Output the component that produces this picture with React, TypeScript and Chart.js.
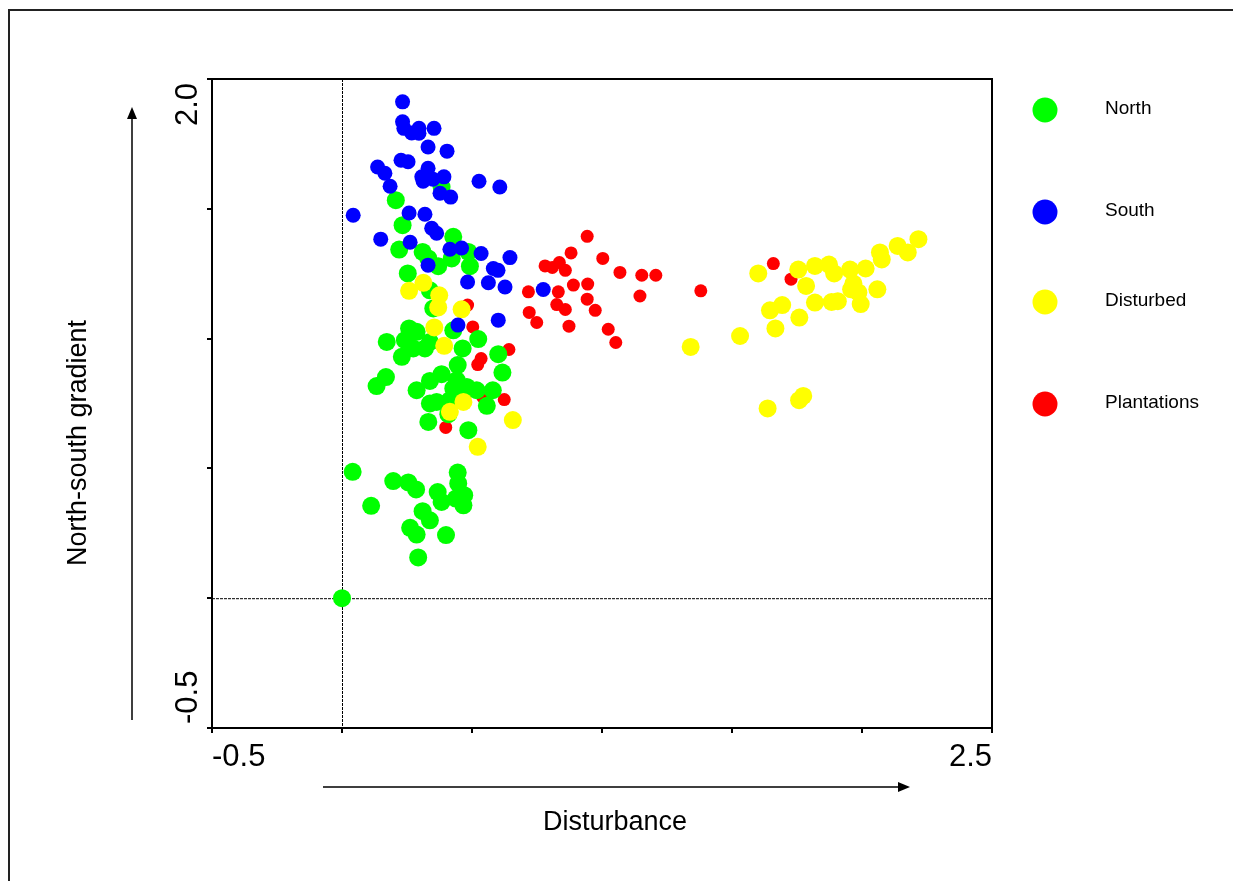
import React, { useEffect, useRef } from "react";
import { Chart, registerables } from "chart.js";

Chart.register(...registerables);

const seriesNames = ["North", "South", "Disturbed", "Plantations"];
const seriesColors = ["#00ff00", "#0000ff", "#ffff00", "#ff0000"];
const pointRadii = [9, 7.5, 9, 6.5];
const drawOrder = [2, 0, 1, 3];

const xTickLabels = ["-0.5", "2.5"];
const yTickLabels = ["2.0", "-0.5"];
const xTitle = "Disturbance";
const yTitle = "North-south gradient";

const northPoints: [number, number][] = [
  [0.383, 1.584], [0.207, 1.533], [0.233, 1.437], [0.428, 1.392], [0.22, 1.343],
  [0.31, 1.334], [0.332, 1.309], [0.37, 1.279], [0.422, 1.309], [0.486, 1.334],
  [0.492, 1.279], [0.253, 1.251], [0.338, 1.186], [0.351, 1.116], [0.258, 1.039],
  [0.287, 1.026], [0.172, 0.987], [0.242, 0.994], [0.274, 0.962], [0.319, 0.962],
  [0.23, 0.93], [0.338, 0.987], [0.428, 1.032], [0.524, 0.998], [0.464, 0.962],
  [0.601, 0.94], [0.445, 0.898], [0.617, 0.869], [0.169, 0.852], [0.133, 0.817],
  [0.287, 0.801], [0.338, 0.837], [0.383, 0.863], [0.441, 0.84], [0.48, 0.814],
  [0.518, 0.801], [0.58, 0.801], [0.338, 0.75], [0.364, 0.756], [0.415, 0.763],
  [0.557, 0.741], [0.409, 0.709], [0.332, 0.679], [0.486, 0.647], [0.428, 0.808],
  [0.467, 0.789], [0.041, 0.487], [0.112, 0.356], [0.197, 0.451], [0.255, 0.446],
  [0.285, 0.419], [0.368, 0.409], [0.383, 0.371], [0.445, 0.484], [0.447, 0.442],
  [0.438, 0.384], [0.47, 0.397], [0.467, 0.358], [0.31, 0.335], [0.338, 0.3],
  [0.262, 0.271], [0.287, 0.245], [0.4, 0.243], [0.293, 0.157], [0.0, 0.0],
];

const southPoints: [number, number][] = [
  [0.233, 1.912], [0.233, 1.835], [0.238, 1.81], [0.268, 1.792], [0.296, 1.81],
  [0.296, 1.791], [0.354, 1.81], [0.331, 1.738], [0.404, 1.722], [0.227, 1.687],
  [0.254, 1.681], [0.137, 1.661], [0.165, 1.637], [0.331, 1.656], [0.307, 1.623],
  [0.312, 1.606], [0.35, 1.614], [0.392, 1.623], [0.377, 1.56], [0.418, 1.545],
  [0.527, 1.606], [0.607, 1.584], [0.185, 1.587], [0.043, 1.475], [0.258, 1.484],
  [0.319, 1.479], [0.345, 1.425], [0.364, 1.406], [0.149, 1.383], [0.262, 1.371],
  [0.415, 1.344], [0.46, 1.349], [0.535, 1.328], [0.646, 1.312], [0.331, 1.283],
  [0.582, 1.27], [0.6, 1.263], [0.483, 1.218], [0.563, 1.215], [0.627, 1.199],
  [0.774, 1.189], [0.601, 1.071], [0.446, 1.052],
];

const disturbedPoints: [number, number][] = [
  [0.313, 1.215], [0.258, 1.184], [0.374, 1.167], [0.37, 1.12], [0.46, 1.113],
  [0.355, 1.043], [0.393, 0.972], [0.467, 0.756], [0.415, 0.718], [0.657, 0.686],
  [0.522, 0.583], [1.601, 1.251], [1.755, 1.266], [1.819, 1.28], [1.873, 1.285],
  [1.893, 1.251], [1.954, 1.266], [2.014, 1.27], [2.069, 1.332], [2.076, 1.305],
  [2.137, 1.357], [2.176, 1.332], [2.217, 1.383], [1.785, 1.203], [1.967, 1.212],
  [1.958, 1.19], [1.986, 1.178], [2.059, 1.19], [1.646, 1.109], [1.693, 1.129],
  [1.759, 1.081], [1.819, 1.139], [1.883, 1.141], [1.907, 1.144], [1.995, 1.133],
  [1.667, 1.039], [1.531, 1.01], [1.341, 0.968], [1.637, 0.731], [1.758, 0.763],
  [1.774, 0.779],
];

const plantationPoints: [number, number][] = [
  [0.943, 1.394], [0.881, 1.33], [0.781, 1.28], [0.809, 1.274], [0.836, 1.293],
  [0.859, 1.263], [1.003, 1.309], [1.069, 1.255], [1.153, 1.244], [1.207, 1.244],
  [1.38, 1.184], [0.717, 1.18], [0.832, 1.18], [0.89, 1.206], [0.945, 1.21],
  [1.146, 1.164], [0.72, 1.101], [0.749, 1.062], [0.826, 1.131], [0.859, 1.112],
  [0.943, 1.152], [0.974, 1.109], [0.873, 1.048], [1.024, 1.036], [1.053, 0.985],
  [0.642, 0.958], [1.659, 1.289], [1.727, 1.229], [0.483, 1.129], [0.503, 1.045],
  [0.535, 0.923], [0.522, 0.9], [0.624, 0.765], [0.399, 0.658], [0.542, 0.774],
];

const allSeries = [northPoints, southPoints, disturbedPoints, plantationPoints];

const FONT = "'Liberation Sans', Arial, Helvetica, sans-serif";

const decorPlugin = {
  id: "decor",
  beforeDatasetsDraw(chart: any) {
    const { ctx, chartArea, scales } = chart;
    const x0 = scales.x.getPixelForValue(0);
    const y0 = scales.y.getPixelForValue(0);
    ctx.save();
    ctx.strokeStyle = "#000";
    ctx.lineWidth = 1;
    ctx.setLineDash([3, 1]);
    ctx.beginPath();
    ctx.moveTo(x0 + 0.5, chartArea.top);
    ctx.lineTo(x0 + 0.5, chartArea.bottom);
    ctx.moveTo(chartArea.left, y0 + 0.5);
    ctx.lineTo(chartArea.right, y0 + 0.5);
    ctx.stroke();
    ctx.setLineDash([]);
    ctx.lineWidth = 2;
    ctx.strokeRect(chartArea.left, chartArea.top, chartArea.right - chartArea.left, chartArea.bottom - chartArea.top);
    ctx.restore();
  },
  afterDraw(chart: any) {
    const { ctx, chartArea } = chart;
    ctx.save();
    // outer frame
    ctx.strokeStyle = "#222";
    ctx.lineWidth = 2;
    ctx.strokeRect(9, 10, 1400, 1000);

    ctx.fillStyle = "#000";
    // x tick labels
    ctx.font = `31px ${FONT}`;
    ctx.textBaseline = "alphabetic";
    ctx.textAlign = "left";
    ctx.fillText(xTickLabels[0], chartArea.left, 766);
    ctx.textAlign = "right";
    ctx.fillText(xTickLabels[1], chartArea.right, 766);

    // y tick labels (rotated)
    ctx.save();
    ctx.translate(197, chartArea.top + 4);
    ctx.rotate(-Math.PI / 2);
    ctx.textAlign = "right";
    ctx.fillText(yTickLabels[0], 0, 0);
    ctx.restore();
    ctx.save();
    ctx.translate(197, chartArea.bottom - 4);
    ctx.rotate(-Math.PI / 2);
    ctx.textAlign = "left";
    ctx.fillText(yTickLabels[1], 0, 0);
    ctx.restore();

    // axis titles
    ctx.font = `27px ${FONT}`;
    ctx.textAlign = "center";
    ctx.textBaseline = "middle";
    ctx.fillText(xTitle, 615, 823);
    ctx.save();
    ctx.translate(79, 443);
    ctx.rotate(-Math.PI / 2);
    ctx.fillText(yTitle, 0, 0);
    ctx.restore();

    // arrows
    ctx.strokeStyle = "#000";
    ctx.lineWidth = 1.5;
    ctx.beginPath();
    ctx.moveTo(323, 787);
    ctx.lineTo(900, 787);
    ctx.moveTo(132, 720);
    ctx.lineTo(132, 117);
    ctx.stroke();
    ctx.beginPath();
    ctx.moveTo(898, 782);
    ctx.lineTo(910, 787);
    ctx.lineTo(898, 792);
    ctx.closePath();
    ctx.fill();
    ctx.beginPath();
    ctx.moveTo(127, 119);
    ctx.lineTo(132, 107);
    ctx.lineTo(137, 119);
    ctx.closePath();
    ctx.fill();

    // legend
    const legendY = [110, 212, 302, 404];
    ctx.font = `19px ${FONT}`;
    ctx.textAlign = "left";
    ctx.textBaseline = "middle";
    chart.data.datasets.forEach((ds: any, i: number) => {
      ctx.fillStyle = ds.backgroundColor;
      ctx.beginPath();
      ctx.arc(1045, legendY[i], 12.5, 0, Math.PI * 2);
      ctx.fill();
      ctx.fillStyle = "#000";
      ctx.fillText(ds.label, 1105, legendY[i] - 1);
    });
    ctx.restore();
  },
};

export default function App() {
  const canvasRef = useRef<HTMLCanvasElement | null>(null);

  useEffect(() => {
    const canvas = canvasRef.current;
    if (!canvas) return;
    const chart = new Chart(canvas, {
      type: "scatter",
      data: {
        datasets: allSeries.map((pts, i) => ({
          label: seriesNames[i],
          data: pts.map(([x, y]) => ({ x, y })),
          backgroundColor: seriesColors[i],
          borderWidth: 0,
          pointRadius: pointRadii[i],
          pointHoverRadius: pointRadii[i],
          order: drawOrder[i],
        })),
      },
      options: {
        responsive: false,
        animation: false,
        events: [],
        layout: { padding: { top: 79, right: 241, bottom: 0, left: 0 } },
        plugins: { legend: { display: false }, tooltip: { enabled: false } },
        scales: {
          x: {
            type: "linear",
            position: "bottom",
            min: -0.5,
            max: 2.5,
            ticks: { stepSize: 0.5, display: false },
            grid: { drawOnChartArea: false, drawTicks: true, tickLength: 5, color: "#000", lineWidth: 2 },
            border: { display: false },
            afterFit: (s: any) => { s.height = 153; },
          },
          y: {
            type: "linear",
            position: "left",
            min: -0.5,
            max: 2.0,
            ticks: { stepSize: 0.5, display: false },
            grid: { drawOnChartArea: false, drawTicks: true, tickLength: 5, color: "#000", lineWidth: 2 },
            border: { display: false },
            afterFit: (s: any) => { s.width = 212; },
          },
        },
      },
      plugins: [decorPlugin],
    });
    return () => chart.destroy();
  }, []);

  return (
    <div style={{ position: "fixed", left: 0, top: 0, width: 1233, height: 881, background: "#fff" }}>
      <canvas ref={canvasRef} width={1233} height={881} style={{ display: "block" }} />
    </div>
  );
}
